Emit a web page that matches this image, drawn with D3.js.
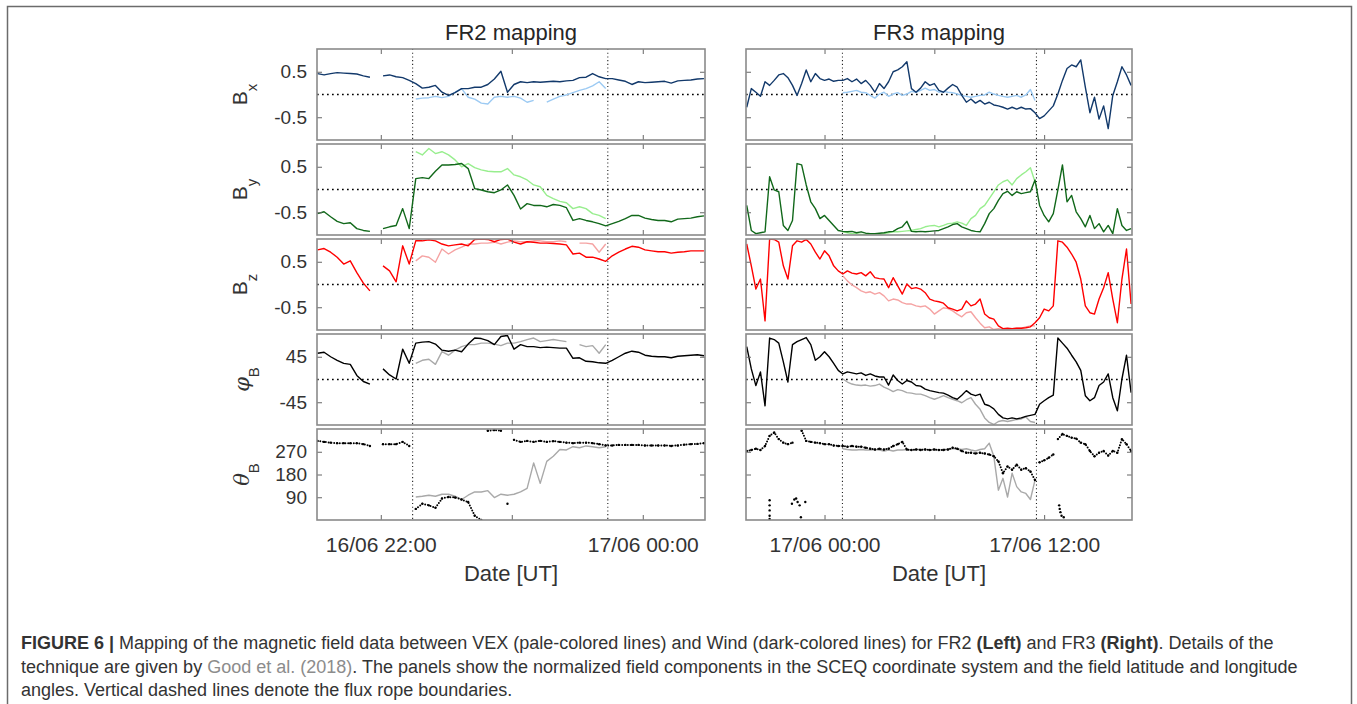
<!DOCTYPE html>
<html>
<head>
<meta charset="utf-8">
<script src="https://cdn.jsdelivr.net/npm/d3@7"></script>
<style>
  body { margin: 0; background: #fff; }
  svg { display: block; font-family: "Liberation Sans", Arial, sans-serif; }
</style>
</head>
<body>
<div id="figure"></div>
<script>
// FR2 (left): hours after 16/06 00:00, Wind every 3 min from 21:31, VEX from 22:16
const bxWindL = [0.46,0.43,0.46,0.48,0.47,0.46,0.45,0.41,0.38,null,0.41,0.43,0.39,0.37,0.31,0.24,0.14,0.16,0.20,0.05,-0.02,0.04,0.13,0.13,0.16,0.16,0.22,0.34,0.51,0.05,0.22,0.28,0.26,0.28,0.27,0.28,0.29,0.28,0.30,0.31,0.37,0.38,0.46,0.39,0.35,0.35,0.32,0.29,0.22,0.28,0.26,0.27,0.28,0.29,0.25,0.30,0.31,0.32,0.34,0.35];
const bxVexL = [-0.10,-0.08,-0.07,-0.04,-0.07,-0.04,0.05,0.13,-0.06,-0.10,-0.19,-0.21,-0.06,-0.04,-0.06,-0.04,-0.08,-0.17,-0.13,null,-0.17,-0.10,-0.04,-0.01,0.04,0.09,0.13,0.19,0.28,0.13];
const byWindL = [-0.53,-0.49,-0.60,-0.70,-0.75,-0.73,-0.86,-0.90,-0.92,null,-0.86,-0.82,-0.79,-0.42,-0.86,0.24,0.26,0.24,0.40,0.54,0.54,0.55,0.57,0.46,0.02,-0.01,-0.05,-0.07,-0.01,0.10,-0.13,-0.43,-0.31,-0.35,-0.35,-0.38,-0.33,-0.35,-0.40,-0.68,-0.64,-0.68,-0.71,-0.75,-0.80,-0.75,-0.70,-0.64,-0.57,-0.57,-0.63,-0.66,-0.68,-0.68,-0.71,-0.65,-0.64,-0.63,-0.60,-0.58];
const byVexL = [0.83,0.76,0.90,0.79,0.83,0.76,0.65,0.50,0.57,0.48,0.43,0.40,0.39,0.39,0.46,0.32,0.28,0.21,0.10,0.06,-0.13,-0.20,-0.26,-0.29,-0.42,-0.38,-0.42,-0.53,-0.57,-0.64];
const bzWindL = [0.76,0.79,0.71,0.60,0.45,0.52,0.26,0.03,-0.14,null,0.41,0.30,0.06,0.85,0.45,0.96,0.96,0.98,0.96,0.89,0.85,0.87,0.89,0.85,0.99,1.00,0.99,0.94,0.99,1.00,0.93,0.89,0.94,0.93,0.91,0.91,0.90,0.89,0.87,0.67,0.69,0.60,0.60,0.56,0.51,0.63,0.71,0.78,0.84,0.82,0.76,0.74,0.72,0.72,0.69,0.71,0.72,0.74,0.74,0.74];
const bzVexL = [0.52,0.63,0.60,0.49,0.78,0.67,0.76,0.82,0.89,0.89,0.91,0.91,0.93,0.89,0.93,0.96,0.94,0.94,0.96,0.96,0.94,0.94,0.96,0.94,null,0.91,0.91,0.89,0.71,0.89];
const phiWindL = [52,54,45,38,32,30,8,-4,-9,null,21,9,1,60,32,72,74,75,70,58,56,58,55,70,82,81,77,69,85,87,60,69,65,65,63,64,63,62,62,42,43,36,35,33,32,38,45,52,56,54,48,46,45,45,43,46,47,48,49,47];
const phiVexL = [32,38,40,30,55,48,58,65,69,69,72,72,70,67,72,72,75,79,82,75,77,79,77,75,null,69,65,67,52,69];
const thetaWindL = [313,309,306,304,304,304,304,300,293,null,300,300,300,309,293,44,64,58,48,85,91,89,81,71,17,0,353,356,353,64,317,309,313,309,313,309,312,309,306,304,306,306,304,300,295,295,297,297,297,297,295,295,295,295,293,295,298,300,301,304];
const thetaVexL = [91,94,98,94,102,102,94,81,98,111,111,116,89,102,98,102,111,125,226,145,232,252,279,277,290,286,293,290,286,290];

// FR3 (right): hours after 17/06 00:00, Wind every 15 min from 19:45 (16/06), VEX from 01:00
const bxWindR = [-0.28,0.13,0.05,-0.04,0.28,0.20,0.31,0.43,0.46,0.37,0.20,-0.02,0.24,0.54,0.28,0.46,0.35,0.31,0.34,0.29,0.31,0.31,0.35,0.28,0.34,0.24,0.31,0.20,0.05,0.24,0.13,0.28,0.50,0.54,0.61,0.72,0.13,0.05,0.14,0.28,0.20,0.24,0.09,0.05,0.14,0.22,0.16,-0.02,-0.17,-0.10,-0.19,-0.13,-0.21,-0.17,-0.23,-0.25,-0.28,-0.32,-0.28,-0.32,-0.28,-0.32,-0.31,-0.40,-0.53,-0.47,-0.36,-0.25,0.01,0.31,0.57,0.65,0.61,0.76,0.16,-0.40,-0.06,-0.54,-0.25,-0.75,-0.02,0.28,0.61,0.43,0.20];
const bxVexR = [0.04,0.05,0.07,0.09,0.05,0.04,-0.02,-0.08,0.01,0.05,-0.04,0.01,0.04,-0.02,0.01,0.07,0.05,0.09,0.14,0.09,0.11,0.05,0.07,0.05,0.04,0.01,-0.02,-0.04,-0.06,-0.04,-0.02,-0.01,0.05,0.01,-0.02,-0.04,-0.06,-0.04,-0.02,-0.06,-0.01,0.11,-0.13];
const byWindR = [-0.35,-0.90,-0.97,-0.95,-0.93,0.28,-0.01,-0.05,-0.79,-0.90,-0.68,0.57,0.54,0.10,-0.27,-0.42,-0.64,-0.57,-0.68,-0.79,-0.90,-0.92,-0.93,-0.92,-0.95,-0.93,-0.96,-0.97,-0.97,-0.96,-0.95,-0.93,-0.92,-0.86,-0.82,-0.70,-0.92,-0.93,-0.92,-0.93,-0.92,-0.91,-0.90,-0.86,-0.82,-0.77,-0.75,-0.82,-0.86,-0.90,-0.92,-0.93,-0.75,-0.53,-0.42,-0.24,-0.09,-0.04,-0.13,-0.05,-0.09,-0.07,-0.05,0.21,-0.35,-0.57,-0.71,-0.53,-0.01,0.54,-0.27,-0.13,-0.49,-0.64,-0.82,-0.57,-0.86,-0.75,-0.93,-0.79,-0.97,-0.42,-0.79,-0.90,-0.86];
const byVexR = [-0.93,-0.95,-0.97,-0.97,-0.99,-0.99,-0.99,-0.99,-0.99,-0.97,-0.95,-0.93,-0.93,-0.92,-0.91,-0.90,-0.88,-0.86,-0.82,-0.80,-0.79,-0.82,-0.79,-0.75,-0.74,-0.71,-0.74,-0.79,-0.64,-0.57,-0.42,-0.35,-0.20,-0.05,0.10,0.17,0.21,0.10,0.24,0.32,0.39,0.48,0.17];
const bzWindR = [0.89,0.41,-0.10,0.12,-0.80,1.00,0.99,0.93,0.41,0.12,0.85,0.96,0.93,0.99,0.89,0.71,0.56,0.74,0.63,0.41,0.30,0.23,0.30,0.25,0.23,0.26,0.19,0.28,0.15,0.13,0.12,-0.07,0.15,-0.03,-0.21,0.01,-0.09,-0.07,-0.10,-0.18,-0.32,-0.36,-0.38,-0.41,-0.51,-0.54,-0.58,-0.54,-0.36,-0.47,-0.43,-0.32,-0.65,-0.73,-0.76,-0.91,-0.97,-0.96,-0.97,-0.96,-0.96,-0.95,-0.93,-0.84,-0.73,-0.54,-0.58,-0.47,0.96,0.93,0.82,0.67,0.49,0.12,-0.47,-0.62,-0.65,-0.32,-0.07,0.26,-0.32,-0.84,0.12,0.78,-0.43];
const bzVexR = [0.19,0.08,-0.01,-0.07,-0.14,-0.18,-0.16,-0.21,-0.18,-0.25,-0.36,-0.32,-0.34,-0.40,-0.43,-0.43,-0.47,-0.49,-0.47,-0.54,-0.65,-0.58,-0.51,-0.53,-0.58,-0.65,-0.71,-0.62,-0.60,-0.73,-0.85,-0.95,-0.93,-0.99,-0.97,-0.99,-0.99,-0.97,-0.96,-0.96,-0.93,-0.91,-0.91];
const phiWindR = [65,21,-12,15,-52,82,79,72,35,-5,69,75,79,83,69,38,45,55,45,32,18,11,15,13,11,13,8,11,7,5,5,-11,9,-2,-9,-2,-5,-12,-13,-19,-22,-24,-26,-27,-31,-36,-39,-31,-22,-29,-32,-29,-49,-52,-58,-69,-76,-78,-76,-78,-76,-73,-71,-69,-49,-42,-36,-31,82,72,62,48,35,18,-32,-42,-36,-12,-5,11,-36,-62,1,48,-26];
const phiVexR = [1,-5,-9,-11,-12,-11,-13,-12,-9,-15,-19,-24,-20,-22,-26,-27,-29,-29,-32,-36,-39,-36,-32,-36,-39,-42,-46,-40,-36,-49,-59,-76,-85,-89,-83,-81,-83,-81,-79,-78,-74,-83,-85];
const thetaWindR = [273,277,282,277,293,333,346,320,306,300,306,null,353,313,309,306,304,300,300,295,293,293,290,293,290,290,286,282,279,282,279,282,293,300,309,279,277,279,277,279,277,279,277,277,279,286,282,273,266,266,263,266,263,259,252,232,185,212,199,219,199,205,192,158,228,236,246,259,320,340,333,326,322,306,300,273,252,266,273,255,273,266,320,300,273];
const thetaVexR = [282,279,277,277,279,277,277,279,277,273,277,273,277,277,279,277,279,279,279,277,279,277,279,279,282,282,279,282,277,273,279,282,304,252,118,165,91,185,132,111,105,81,158];
// Wind angles that wrapped round to the bottom of the panel: [hours, degrees]
const thetaWrapR = [[-3.0,78],[-3.0,58],[-3.0,38],[-3.0,17],[-3.0,4],[-1.78,64],[-1.65,81],[-1.55,85],[-1.47,71],[-1.36,58],[-1.29,11],[-1.05,71],[12.82,58],[12.85,44],[12.89,31],[12.95,17],[13.07,11]];

const captionLines = [
  [["FIGURE 6 | ", "b"], ["Mapping of the magnetic field data between VEX (pale-colored lines) and Wind (dark-colored lines) for FR2 ", ""], ["(Left)", "b"], [" and FR3 ", ""], ["(Right)", "b"], [". Details of the", ""]],
  [["technique are given by ", ""], ["Good et al. (2018)", "g"], [". The panels show the normalized field components in the SCEQ coordinate system and the field latitude and longitude", ""]],
  [["angles. Vertical dashed lines denote the flux rope boundaries.", ""]]
];

const width = 1357;
const height = 704;
const textColor = "#333";

const rows = [
  { sym: "B", sub: "x", greek: false, domain: [-1, 1], ticks: [-0.5, 0.5], zero: true, dark: "#12396b", pale: "#9ccaf3" },
  { sym: "B", sub: "y", greek: false, domain: [-1, 1], ticks: [-0.5, 0.5], zero: true, dark: "#11681a", pale: "#98ee8e" },
  { sym: "B", sub: "z", greek: false, domain: [-1, 1], ticks: [-0.5, 0.5], zero: true, dark: "#ff0000", pale: "#f5a3a3" },
  { sym: "\u03c6", sub: "B", greek: true, domain: [-90, 90], ticks: [-45, 45], zero: true, dark: "#000000", pale: "#a9a9a9" },
  { sym: "\u03b8", sub: "B", greek: true, domain: [0, 360], ticks: [90, 180, 270], zero: false, dark: "#000000", pale: "#a9a9a9", dots: true }
];

const cols = [
  {
    x0: 317, x1: 705, domain: [21.513, 24.475], start: 21.517, step: 0.05, paleStart: 22.267,
    bounds: [22.243, 23.733], ticks: [22, 23, 24], labelled: [22, 24], day: 16, title: "FR2 mapping",
    wind: [bxWindL, byWindL, bzWindL, phiWindL, thetaWindL],
    vex: [bxVexL, byVexL, bzVexL, phiVexL, thetaVexL],
    wrap: []
  },
  {
    x0: 746, x1: 1132, domain: [-4.29, 16.8], start: -4.25, step: 0.25, paleStart: 1.0,
    bounds: [0.98, 11.58], ticks: [0, 6, 12], labelled: [0, 12], day: 17, title: "FR3 mapping",
    wind: [bxWindR, byWindR, bzWindR, phiWindR, thetaWindR],
    vex: [bxVexR, byVexR, bzVexR, phiVexR, thetaVexR],
    wrap: thetaWrapR
  }
];

const panelTop = 49, panelStep = 95, panelH = 91;

const svg = d3.select("#figure").append("svg")
  .attr("width", width)
  .attr("height", height);

const defs = svg.append("defs");

// outer figure frame (runs off the bottom of the page)
svg.append("rect")
  .attr("x", 7.5).attr("y", 6.5)
  .attr("width", 1344).attr("height", 780)
  .attr("fill", "none")
  .attr("stroke", "#6b6b6b")
  .attr("stroke-width", 1.5);

function toPoints(values, start, step) {
  return values.map((v, i) => ({ t: start + i * step, v }));
}

// split into runs, breaking on gaps and on large jumps (angle wrap)
function runs(points, maxJump) {
  const out = [];
  let cur = [];
  points.forEach(p => {
    if (p.v == null) {
      if (cur.length) out.push(cur);
      cur = [];
      return;
    }
    if (cur.length && Math.abs(p.v - cur[cur.length - 1].v) > maxJump) {
      out.push(cur);
      cur = [];
    }
    cur.push(p);
  });
  if (cur.length) out.push(cur);
  return out;
}

function timeLabel(h, day) {
  const d = day + Math.floor(h / 24);
  const hh = ((h % 24) + 24) % 24;
  return `${d}/06 ${String(hh).padStart(2, "0")}:00`;
}

cols.forEach((c, ci) => {
  const x = d3.scaleLinear().domain(c.domain).range([c.x0, c.x1]);

  svg.append("text")
    .attr("x", (c.x0 + c.x1) / 2)
    .attr("y", 40)
    .attr("text-anchor", "middle")
    .attr("font-size", 22)
    .attr("fill", "#262626")
    .text(c.title);

  svg.append("text")
    .attr("x", (c.x0 + c.x1) / 2)
    .attr("y", 581)
    .attr("text-anchor", "middle")
    .attr("font-size", 22)
    .attr("fill", textColor)
    .text("Date [UT]");

  rows.forEach((r, ri) => {
    const top = panelTop + ri * panelStep;
    const bottom = top + panelH;
    const y = d3.scaleLinear().domain(r.domain).range([bottom, top]);
    const g = svg.append("g");

    const clipId = `clip-${ci}-${ri}`;
    defs.append("clipPath").attr("id", clipId)
      .append("rect")
      .attr("x", c.x0).attr("y", top)
      .attr("width", c.x1 - c.x0).attr("height", panelH);

    const plot = g.append("g").attr("clip-path", `url(#${clipId})`);

    if (r.zero) {
      plot.append("line")
        .attr("x1", c.x0).attr("x2", c.x1)
        .attr("y1", y(0)).attr("y2", y(0))
        .attr("stroke", "#000")
        .attr("stroke-width", 1.7)
        .attr("stroke-dasharray", "1.7,3.3");
    }

    c.bounds.forEach(b => {
      plot.append("line")
        .attr("x1", x(b)).attr("x2", x(b))
        .attr("y1", top).attr("y2", bottom)
        .attr("stroke", "#222")
        .attr("stroke-width", 1.1)
        .attr("stroke-dasharray", "1.1,2.6");
    });

    const line = d3.line()
      .defined(d => d.v != null)
      .x(d => x(d.t))
      .y(d => y(d.v));

    const pale = toPoints(c.vex[ri], c.paleStart, c.step);
    const wind = toPoints(c.wind[ri], c.start, c.step);

    plot.append("path")
      .datum(pale)
      .attr("d", line)
      .attr("fill", "none")
      .attr("stroke", r.pale)
      .attr("stroke-width", 1.4)
      .attr("stroke-linejoin", "round");

    if (r.dots) {
      runs(wind, 60).forEach(seg => {
        plot.append("path")
          .datum(seg)
          .attr("d", line)
          .attr("fill", "none")
          .attr("stroke", r.dark)
          .attr("stroke-width", 2)
          .attr("stroke-linecap", "round")
          .attr("stroke-dasharray", "0,2.8");
      });
      plot.append("g")
        .selectAll("circle")
        .data(wind.filter(d => d.v != null).concat(c.wrap.map(([t, v]) => ({ t, v }))))
        .join("circle")
        .attr("cx", d => x(d.t))
        .attr("cy", d => y(d.v))
        .attr("r", 1.2)
        .attr("fill", r.dark);
    } else {
      plot.append("path")
        .datum(wind)
        .attr("d", line)
        .attr("fill", "none")
        .attr("stroke", r.dark)
        .attr("stroke-width", 1.4)
        .attr("stroke-linejoin", "round");
    }

    // MATLAB-style box: inward ticks on all four sides
    const yLeft = d3.axisLeft(y).tickValues(r.ticks).tickSize(-5).tickPadding(10)
      .tickFormat(ci === 0 ? d => String(d) : "");
    const yRight = d3.axisRight(y).tickValues(r.ticks).tickSize(-5).tickFormat("");
    const xTop = d3.axisTop(x).tickValues(c.ticks).tickSize(-5).tickFormat("");
    const xBottom = d3.axisBottom(x).tickValues(c.ticks).tickSize(-5).tickPadding(17)
      .tickFormat(ri === rows.length - 1 ? d => (c.labelled.includes(d) ? timeLabel(d, c.day) : "") : "");

    [
      [yLeft, `translate(${c.x0},0)`, 19],
      [yRight, `translate(${c.x1},0)`, 19],
      [xTop, `translate(0,${top})`, 21],
      [xBottom, `translate(0,${bottom})`, 21]
    ].forEach(([axis, tr, fs]) => {
      const a = g.append("g").attr("transform", tr).call(axis);
      a.select(".domain").remove();
      a.selectAll(".tick line").attr("stroke", "#666").attr("stroke-width", 1);
      a.selectAll(".tick text")
        .attr("font-size", fs)
        .attr("font-family", "Liberation Sans, Arial, sans-serif")
        .attr("fill", textColor);
    });

    g.append("rect")
      .attr("x", c.x0).attr("y", top)
      .attr("width", c.x1 - c.x0).attr("height", panelH)
      .attr("fill", "none")
      .attr("stroke", "#8a8a8a")
      .attr("stroke-width", 1.6);

    if (ci === 0) {
      const lab = svg.append("text")
        .attr("transform", `translate(${r.greek ? 249 : 247},${(top + bottom) / 2}) rotate(-90)`)
        .attr("text-anchor", "middle")
        .attr("fill", textColor)
        .attr("font-size", 21);
      lab.append("tspan")
        .attr("font-style", r.greek ? "italic" : "normal")
        .attr("font-family", r.greek ? "DejaVu Serif, serif" : null)
        .text(r.sym);
      lab.append("tspan")
        .attr("font-size", 15)
        .attr("dy", 10)
        .text(r.sub);
    }
  });
});

// caption
const caption = svg.append("g")
  .attr("font-family", "Liberation Sans, Arial, sans-serif")
  .attr("font-size", 18)
  .attr("fill", textColor);

captionLines.forEach((parts, i) => {
  const t = caption.append("text")
    .attr("x", 21)
    .attr("y", 649 + i * 23.5);
  parts.forEach(([s, style]) => {
    t.append("tspan")
      .attr("font-weight", style === "b" ? "bold" : null)
      .attr("fill", style === "g" ? "#8c8c8c" : null)
      .text(s);
  });
});
</script>
</body>
</html>
